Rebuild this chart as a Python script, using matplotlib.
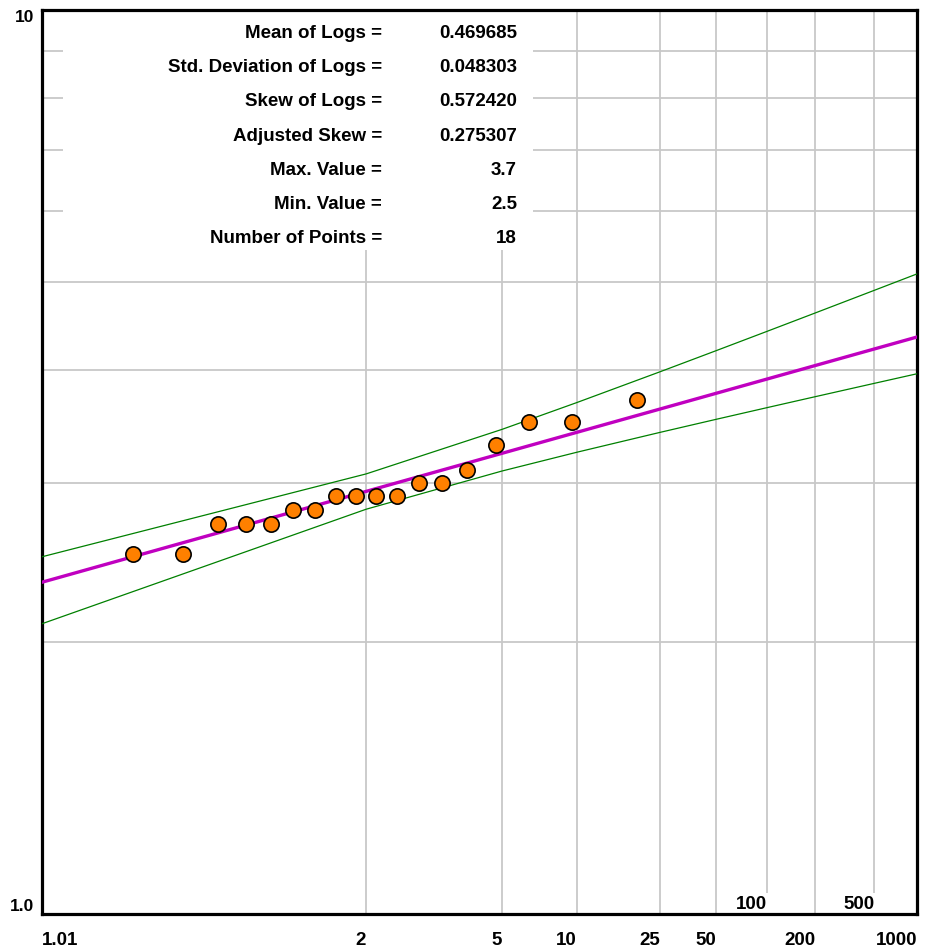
import numpy as np
import matplotlib
matplotlib.use("Agg")
import matplotlib.pyplot as plt
from matplotlib.patches import Rectangle
from matplotlib.ticker import NullFormatter
from matplotlib.transforms import blended_transform_factory
from statistics import NormalDist

plt.rcParams['font.family'] = ['Liberation Sans', 'DejaVu Sans']
plt.rcParams['font.weight'] = 'bold'

# observed values (sorted) and their Weibull return periods
values = [2.5, 2.5, 2.7, 2.7, 2.7, 2.8, 2.8, 2.9, 2.9, 2.9, 2.9,
          3.0, 3.0, 3.1, 3.3, 3.5, 3.5, 3.7]
periods = [1.0556, 1.1176, 1.1875, 1.2667, 1.3571, 1.4615, 1.5833, 1.7273,
           1.9, 2.1111, 2.375, 2.7143, 3.1667, 3.8, 4.75, 6.3333, 9.5, 19.0]

# fitted log-Pearson III curve and 90% confidence limits
curve_T = [1.01, 2, 5, 10, 25, 50, 100, 200, 500, 1000]
fit_Q = [2.3280, 2.9341, 3.2325, 3.4106, 3.6194, 3.7660, 3.9063, 4.0423, 4.2174, 4.3474]
upper_Q = [2.4839, 3.0677, 3.4357, 3.6794, 3.9799, 4.1978, 4.4109, 4.6212, 4.8971, 5.1055]
lower_Q = [2.0944, 2.8038, 3.0900, 3.2419, 3.4104, 3.5246, 3.6318, 3.7340, 3.8638, 3.9590]

stat_names = ["Mean of Logs =", "Std. Deviation of Logs =", "Skew of Logs =",
              "Adjusted Skew =", "Max. Value =", "Min. Value =", "Number of Points ="]
stat_vals = ["0.469685", "0.048303", "0.572420", "0.275307", "3.7", "2.5", "18"]

tick_T = [1.01, 2, 5, 10, 25, 50, 100, 200, 500, 1000]
tick_lbl = ["1.01", "2", "5", "10", "25", "50", "", "200", "", "1000"]
inner_T = [100, 500]

skew = 0.275307
nd = NormalDist()
_ppf = np.vectorize(nd.inv_cdf, otypes=[float])
_cdf = np.vectorize(nd.cdf, otypes=[float])


def T_to_K(T):
    T = np.clip(np.asarray(T, float), 1.0001, 1e7)
    z = _ppf(1 - 1 / T)
    return 2 / skew * ((1 + skew * z / 6 - skew ** 2 / 36) ** 3 - 1)


def K_to_T(K):
    b = np.clip(skew * np.asarray(K, float) / 2 + 1, 1e-9, None)
    z = (np.cbrt(b) - 1 + skew ** 2 / 36) * 6 / skew
    p = np.clip(_cdf(z), 0, 1 - 1e-12)
    return 1 / (1 - p)


fs = 13.5
fw = 'bold'

fig = plt.figure(figsize=(9.28, 9.49), dpi=100)
ax = fig.add_axes([0.04526, 0.0369, 0.9429, 0.9526])
ax.set_xscale('function', functions=(T_to_K, K_to_T))
ax.set_yscale('log')
ax.set_xlim(1.01, 1000)
ax.set_ylim(1, 10)

ax.set_xticks(tick_T)
ax.set_xticklabels(tick_lbl, fontsize=fs, fontweight=fw)
ax.set_yticks([1, 10])
ax.set_yticklabels(["1.0", "10"], fontsize=12.5, fontweight=fw)
ax.set_yticks(range(2, 10), minor=True)
ax.yaxis.set_minor_formatter(NullFormatter())
ax.tick_params(which='both', length=0)
ax.tick_params(axis='x', pad=13)
ax.tick_params(axis='y', pad=5.5)
for i, lb in enumerate(ax.get_xticklabels()):
    lb.set_ha('left' if i == 0 else 'right')
ylb = ax.get_yticklabels()
ylb[0].set_va('bottom')
ylb[1].set_va('top')

ax.set_axisbelow(True)
ax.grid(which='major', axis='x', color='#c8c8c8', lw=1.3)
ax.grid(which='minor', axis='y', color='#c8c8c8', lw=1.3)
for sp in ax.spines.values():
    sp.set_linewidth(2.3)

# white panel behind the statistics
ax.add_patch(Rectangle((0.024, 0.734), 0.537, 0.27, transform=ax.transAxes,
                       facecolor='white', edgecolor='none', zorder=1.5))

ax.plot(curve_T, upper_Q, color='#008000', lw=0.9, zorder=3)
ax.plot(curve_T, lower_Q, color='#008000', lw=0.9, zorder=3)
ax.plot(curve_T, fit_Q, color='#c000c0', lw=2.4, zorder=3)
ax.plot(periods, values, 'o', mfc='#ff8000', mec='black', mew=1.2, ms=11, zorder=4)

bt = blended_transform_factory(ax.transData, ax.transAxes)
for t in inner_T:
    ax.text(t, 0.001, str(t), transform=bt, ha='right', va='bottom', fontsize=fs,
            fontweight=fw, bbox=dict(fc='white', ec='none', pad=2), zorder=1.6)

y0 = 0.9735
step = 34 / 903
for i in range(len(stat_names)):
    y = y0 - i * step
    ax.text(0.3886, y, stat_names[i], transform=ax.transAxes, ha='right',
            va='center', fontsize=fs, fontweight=fw, zorder=5)
    ax.text(0.5429, y, stat_vals[i], transform=ax.transAxes, ha='right',
            va='center', fontsize=fs, fontweight=fw, zorder=5)

fig.savefig('out.png', dpi=100)
